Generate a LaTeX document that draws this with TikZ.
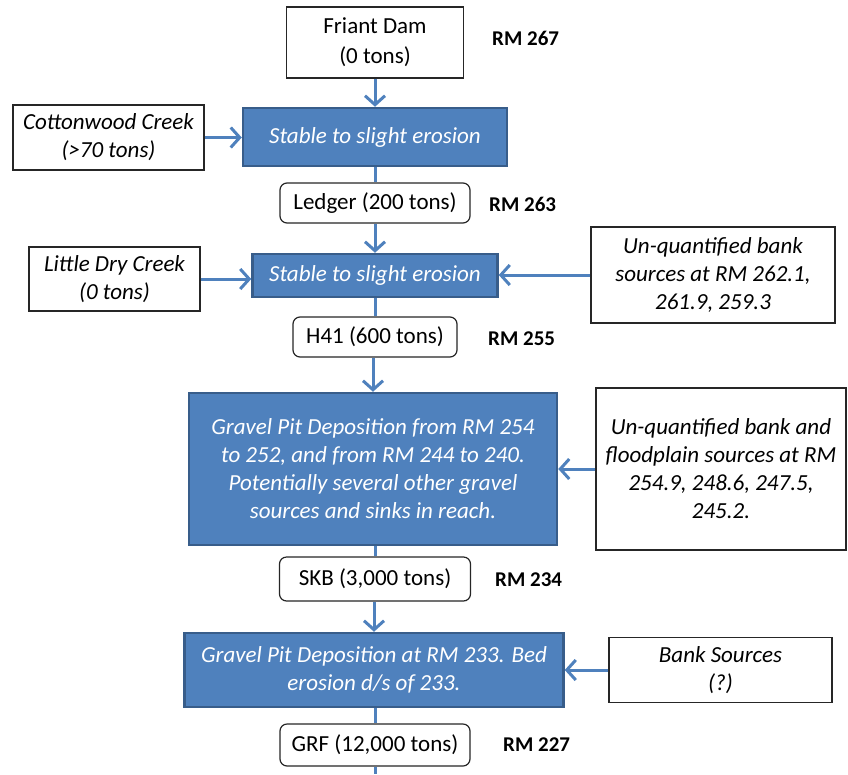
\documentclass[tikz,border=0pt]{standalone}
\usepackage{fontspec}
\setmainfont{Carlito}
\usepackage{tikz}
\usetikzlibrary{arrows.meta,positioning}
\definecolor{flowblue}{HTML}{4F81BD}
\definecolor{flowedge}{HTML}{385D8A}

\begin{document}
\begin{tikzpicture}[
  x=1pt,y=-1pt,
  every node/.style={font=\fontsize{23}{28}\selectfont,align=center,inner sep=0pt},
  reach/.style={draw=flowedge,line width=2.5pt,fill=flowblue,text=white,
                font=\fontsize{23}{28}\selectfont\itshape,minimum width=#1},
  src/.style={draw=black!85,line width=1.2pt,fill=white,
              font=\fontsize{23}{28}\selectfont\itshape,minimum width=#1},
  gauge/.style={draw=black!85,line width=1.2pt,rounded corners=7pt,fill=white,
                minimum width=#1,minimum height=41pt},
  rm/.style={font=\fontsize{21}{24}\selectfont\bfseries,anchor=west},
  arr/.style={-{Straight Barb[length=9pt,width=20pt]},draw=flowblue,line width=3pt},
  ln/.style={draw=flowblue,line width=3pt}
]
\useasboundingbox (0,0) rectangle (848,774);

% main reach
\node[src=177pt,minimum height=71pt,font=\fontsize{23}{30}\selectfont] (friant) at (375,42.5) {Friant Dam\\(0 tons)};
\node[reach=264pt,minimum height=58pt] (st1) at (375,137) {Stable to slight erosion};
\node[gauge=190pt,minimum height=40pt] (ledger) at (375,203) {Ledger (200 tons)};
\node[reach=245pt,minimum height=43pt] (st2) at (375,275.5) {Stable to slight erosion};
\node[gauge=164pt,minimum height=40pt] (h41) at (375,337) {H41 (600 tons)};
\node[reach=368pt,minimum height=152pt] (pit1) at (373,469)
  {Gravel Pit Deposition from RM 254\\to 252, and from RM 244 to 240.\\Potentially several other gravel\\sources and sinks in reach.};
\node[gauge=191pt,minimum height=44pt] (skb) at (375,579) {SKB (3,000 tons)};
\node[reach=379pt,minimum height=74pt] (pit2) at (374,670) {Gravel Pit Deposition at RM 233. Bed\\erosion d/s of 233.};
\node[gauge=190pt,minimum height=42pt] (grf) at (375,745) {GRF (12,000 tons)};
\coordinate (out) at (375,774);

% river miles
\node[rm] (rm267) at (492,38) {RM 267};
\node[rm] (rm263) at (489,204) {RM 263};
\node[rm] (rm255) at (488,339) {RM 255};
\node[rm] (rm234) at (495,580) {RM 234};
\node[rm] (rm227) at (503,745) {RM 227};

% inputs
\node[src=191pt,minimum height=65pt] (cotton) at (108.5,137.5) {Cottonwood Creek\\(>70 tons)};
\node[src=171pt,minimum height=64pt] (ldc) at (114.5,279) {Little Dry Creek\\(0 tons)};
\node[src=244pt,minimum height=96pt] (bank1) at (713,275) {Un-quantified bank\\sources at RM 262.1,\\261.9, 259.3};
\node[src=250pt,minimum height=162pt] (bank2) at (721,469) {Un-quantified bank and\\floodplain sources at RM\\254.9, 248.6, 247.5,\\245.2.};
\node[src=223pt,minimum height=65pt] (bank3) at (720.5,670) {Bank Sources\\(?)};

\draw[arr] (friant.south) -- (friant.south |- st1.north);
\draw[ln] (st1.south -| ledger.north) -- (ledger.north);
\draw[arr] (ledger) -- (st2);
\draw[ln] (st2) -- (h41);
\draw[arr] (h41.south -| pit1.north) -- (pit1.north);
\draw[ln] (pit1.south -| skb.north) -- (skb.north);
\draw[arr] (skb.south -| pit2.north) -- (pit2.north);
\draw[ln] (pit2.south -| grf.north) -- (grf.north);
\draw[ln] (grf) -- (out);

\draw[arr] (cotton.east) -- (cotton.east -| st1.west);
\draw[arr] (ldc.east) -- (ldc.east -| st2.west);
\draw[arr] (bank1.west) -- (bank1.west -| st2.east);
\draw[arr] (bank2.west) -- (bank2.west -| pit1.east);
\draw[arr] (bank3.west) -- (bank3.west -| pit2.east);
\end{tikzpicture}
\end{document}
